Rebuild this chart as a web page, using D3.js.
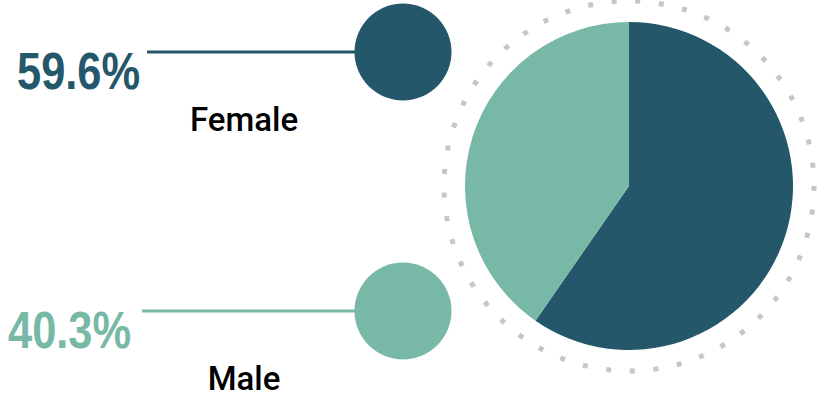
<!DOCTYPE html>
<html>
<head>
<meta charset="utf-8">
<script src="https://cdn.jsdelivr.net/npm/d3@7"></script>
<style>
  html, body { margin: 0; padding: 0; background: #ffffff; }
  svg { display: block; }
</style>
</head>
<body>
<svg id="chart" width="821" height="404"></svg>
<script>
// Gender split
const categories = ["Female", "Male"];
const values = [59.6, 40.3];
const valueLabels = ["59.6%", "40.3%"];
const colors = ["#25576a", "#78b8a7"];

const svg = d3.select("#chart");

// Pie geometry
const cx = 629, cy = 186, radius = 164, ringRadius = 185;

const pie = d3.pie().sort(null).value(d => d.value);
const arc = d3.arc().innerRadius(0).outerRadius(radius);
const data = categories.map((c, i) => ({ category: c, value: values[i], color: colors[i] }));

const pieG = svg.append("g").attr("transform", `translate(${cx},${cy})`);

// dotted ring around the pie
pieG.append("circle")
  .attr("r", ringRadius)
  .attr("fill", "none")
  .attr("stroke", "#c6c6c6")
  .attr("stroke-width", 5)
  .attr("stroke-dasharray", "5 " + (2 * Math.PI * ringRadius / 49 - 5).toFixed(3));

pieG.selectAll("path.slice")
  .data(pie(data))
  .join("path")
  .attr("class", "slice")
  .attr("d", arc)
  .attr("fill", d => d.data.color);

// Legend rows: value, connector line, marker circle, category name
const rowY = d3.scalePoint().domain(categories).range([52, 311]);
const markerX = 403, markerR = 48.5;
const lineStart = { Female: 147, Male: 142 };
const valueX = { Female: 17, Male: 8 };
const narrow = 0.835; // horizontal squeeze for the condensed value figures

const rows = svg.selectAll("g.row")
  .data(data)
  .join("g")
  .attr("class", "row");

rows.append("line")
  .attr("x1", d => lineStart[d.category])
  .attr("x2", markerX)
  .attr("y1", d => rowY(d.category))
  .attr("y2", d => rowY(d.category))
  .attr("stroke", d => d.color)
  .attr("stroke-width", 3);

rows.append("circle")
  .attr("cx", markerX)
  .attr("cy", d => rowY(d.category))
  .attr("r", markerR)
  .attr("fill", d => d.color);

rows.append("text")
  .attr("transform", d => `translate(${valueX[d.category]},${rowY(d.category) + 37}) scale(${narrow},1)`)
  .attr("fill", d => d.color)
  .style("font-family", "'Liberation Sans', Arial, sans-serif")
  .style("font-weight", "bold")
  .style("font-size", "52px")
  .text((d, i) => valueLabels[i]);

rows.append("text")
  .attr("x", 244)
  .attr("y", d => rowY(d.category) + 79)
  .attr("text-anchor", "middle")
  .attr("fill", "#000000")
  .style("font-family", "Roboto, 'Noto Sans', sans-serif")
  .style("font-weight", 500)
  .style("font-size", "33px")
  .text(d => d.category);
</script>
</body>
</html>
